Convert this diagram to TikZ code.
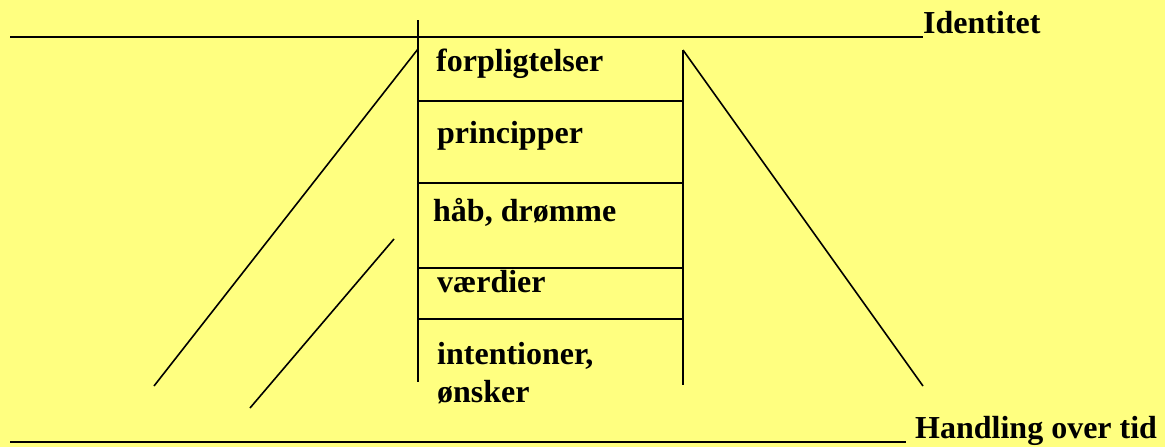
\documentclass[tikz,border=0pt]{standalone}
\usepackage{fontspec}
\setmainfont{Liberation Serif}
\definecolor{paper}{HTML}{FFFF80}
\begin{document}
\begin{tikzpicture}[x=1pt,y=-1pt,
  lbl/.style={anchor=base west,inner sep=0pt,font=\fontsize{32}{36}\selectfont\bfseries},
  rule/.style={line width=1.8pt,line cap=butt},
  edge/.style={line width=1.6pt}]
  % page background
  \fill[paper] (0,0) rectangle (1165,447);
  \useasboundingbox (0,0) rectangle (1165,447);

  % ladder frame
  \coordinate (lt) at (418,20);
  \coordinate (lb) at (418,382);
  \coordinate (rt) at (683,50);
  \coordinate (rb) at (683,385);
  \draw[edge] (lt) -- (lb);
  \draw[edge] (rt) -- (rb);
  \foreach \y/\n in {101/a,183/b,268/c,319/d} {
    \coordinate (h\n l) at (418,\y);
    \coordinate (h\n r) at (683,\y);
    \draw[edge] (h\n l) -- (h\n r);
  }

  % slanted sides
  \coordinate (d1t) at (418,49);
  \coordinate (d1b) at (154,386);
  \coordinate (d2t) at (394,239);
  \coordinate (d2b) at (250,408);
  \coordinate (d3b) at (923,386);
  \draw[edge] (d1t) -- (d1b);
  \draw[edge] (d2t) -- (d2b);
  \draw[edge] (rt) -- (d3b);

  % ladder rungs
  \node[lbl] (forp) at (436,71) {forpligtelser};
  \node[lbl] (princ) at (437,143) {principper};
  \node[lbl] (haab) at (433,221) {håb, drømme};
  \node[lbl] (vaerd) at (437,292) {værdier};
  \node[lbl] (inten) at (437,364) {intentioner,};
  \node[lbl] (onsk) at (437,402) {ønsker};

  % top and bottom levels
  \node[lbl] (ident) at (923,34) {Identitet};
  \coordinate (topl) at (10,37);
  \draw[rule] (topl) -- (ident.base west |- topl);
  \node[lbl] (handl) at (915,438) {Handling over tid};
  \coordinate (botl) at (10,442);
  \coordinate (botr) at (906,442);
  \draw[rule] (botl) -- (botr);
\end{tikzpicture}
\end{document}
